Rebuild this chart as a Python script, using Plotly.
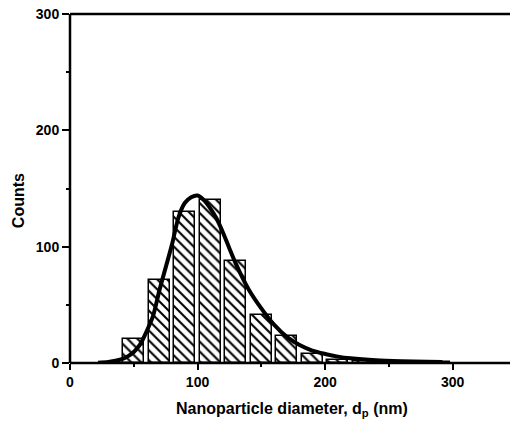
import plotly.graph_objects as go

# Histogram bins (centres, nm) and counts
bin_centers = [50, 70, 90, 110, 130, 150, 170, 190, 210, 230, 250, 270, 290]
counts = [21, 71, 130, 140, 88, 41, 23, 8, 3, 2, 1, 1, 1]

# Fitted distribution curve
fit_x = [22, 30, 40, 45, 50, 55, 60, 65, 70, 75, 80, 85, 90, 95, 100, 105, 110,
         115, 120, 125, 130, 140, 150, 160, 170, 180, 190, 200, 210, 220, 240,
         260, 280, 292]
fit_y = [0.3, 0.8, 3, 5.5, 9.5, 16, 27, 40, 62, 82, 102, 125, 137.5, 142.5, 144,
         140, 133, 124, 112, 98.5, 85.5, 63.5, 47, 33, 22.5, 15.5, 10.7, 7.8,
         5.5, 4, 2.3, 1.5, 1, 0.8]

x_ticks = [0, 100, 200, 300]
y_ticks = [0, 100, 200, 300]

fig = go.Figure()
fig.add_trace(go.Bar(
    x=bin_centers, y=counts, width=16.5,
    marker=dict(color="white",
                line=dict(color="black", width=1.5),
                pattern=dict(shape="\\", fgcolor="black", bgcolor="white",
                             size=7, solidity=0.3)),
    showlegend=False, cliponaxis=True,
))
fig.add_trace(go.Scatter(
    x=fit_x, y=fit_y, mode="lines",
    line=dict(color="black", width=4, shape="spline", smoothing=0.8),
    showlegend=False,
))

tickfont = dict(family="Liberation Sans, Arial, sans-serif", size=14,
                color="black", weight="bold")
axis_line = dict(color="black", width=2.5)

fig.update_layout(
    template="none",
    width=510, height=428,
    margin=dict(l=70, r=0, t=14, b=65),
    plot_bgcolor="white", paper_bgcolor="white",
    bargap=0,
    xaxis=dict(range=[0, 345], tickvals=x_ticks, ticks="outside", ticklen=6,
               tickwidth=2, tickcolor="black", showline=False,
               showgrid=False, zeroline=False, tickfont=tickfont,
               minor=dict(tickvals=[50, 150, 250], ticks="outside", ticklen=3,
                          tickwidth=2, tickcolor="black", showgrid=False)),
    yaxis=dict(range=[0, 300], tickvals=y_ticks, ticks="outside", ticklen=7,
               tickwidth=2, tickcolor="black", showline=False,
               showgrid=False, zeroline=False, tickfont=tickfont,
               minor=dict(tickvals=[50, 150, 250], ticks="outside", ticklen=3,
                          tickwidth=2, tickcolor="black", showgrid=False)),
    shapes=[
        dict(type="line", xref="paper", yref="paper", x0=0, x1=1,
             y0=1, y1=1, line=axis_line, layer="above"),
        dict(type="line", xref="paper", yref="paper", x0=0, x1=1,
             y0=0, y1=0, line=axis_line, layer="above"),
        dict(type="line", xref="paper", yref="paper", x0=0, x1=0,
             y0=0, y1=1, line=axis_line, layer="above"),
    ],
    annotations=[
        dict(text="Nanoparticle diameter, d<sub>p</sub> (nm)", xref="paper",
             yref="paper", x=0.505, y=-0.132, xanchor="center",
             yanchor="middle", showarrow=False,
             font=dict(family="Liberation Sans, Arial, sans-serif", size=16,
                       color="black", weight="bold")),
        dict(text="Counts", xref="paper", yref="paper", x=-0.118, y=0.464,
             xanchor="center", yanchor="middle", textangle=-90,
             showarrow=False,
             font=dict(family="Liberation Sans, Arial, sans-serif", size=16,
                       color="black", weight="bold")),
    ],
)

fig.write_html(
    "out.html",
    config={"displayModeBar": False},
)
